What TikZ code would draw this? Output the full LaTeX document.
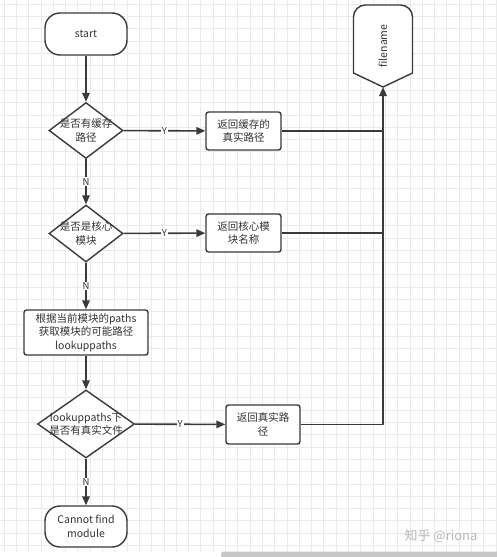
\documentclass[tikz,border=0pt]{standalone}
\usepackage{fontspec}
\setmainfont{Noto Sans CJK SC}
\usetikzlibrary{shapes.geometric,arrows.meta}
\definecolor{ln}{HTML}{3A3A3A}
\definecolor{gridc}{HTML}{EBEBEB}
\tikzset{
  gridline/.style={draw=gridc,line width=0.9pt},
  flow/.style={draw=ln,line width=1.6pt,line join=round},
  arr/.style={flow,-{Triangle[length=9pt,width=7.5pt]}},
  basebox/.style={draw=ln,line width=1.4pt,fill=white,align=center,inner sep=1pt,
    font=\fontsize{10.5}{13.5}\selectfont,text=black!80},
  procbox/.style={basebox,rectangle,rounded corners=2.5pt},
  term/.style={basebox,rectangle,rounded corners=15pt,minimum width=82pt,minimum height=42pt},
  decision/.style={draw=ln,line width=1.4pt,fill=white,diamond,inner sep=0pt},
  dtext/.style={align=center,inner sep=0pt,font=\fontsize{10.5}{13.5}\selectfont,text=black!80},
  lbl/.style={fill=white,inner sep=1pt,font=\fontsize{9.5}{10}\selectfont,text=black!80}
}
\begin{document}
\begin{tikzpicture}[x=1pt,y=-1pt]
\useasboundingbox (0,0) rectangle (497,557);
\fill[white] (0,0) rectangle (497,557);
% grid
\foreach \i in {0,...,40} \draw[gridline] ({4.1+12.3*\i},0) -- ({4.1+12.3*\i},552);
\foreach \j in {0,...,44} \draw[gridline] (0,{4.3+12.3*\j}) -- (497,{4.3+12.3*\j});
% scrollbar
\fill[black!22,rounded corners=2.5pt] (221,551.5) rectangle (500,558);

% nodes
\node[term] (start) at (86,34) {start};
\node[decision,minimum width=74pt,minimum height=56pt,
  label={[dtext]center:是否有缓存\\路径}] (d1) at (86,130.5) {};
\node[procbox,minimum width=75pt,minimum height=38pt] (b1) at (243.5,131) {返回缓存的\\真实路径};
\node[decision,minimum width=74pt,minimum height=57pt,
  label={[dtext]center:是否是核心\\模块}] (d2) at (86,233.5) {};
\node[procbox,minimum width=75pt,minimum height=38pt] (b2) at (243.5,233) {返回核心模\\块名称};
\node[procbox,minimum width=124pt,minimum height=45pt,font=\fontsize{10.5}{13.3}\selectfont] (b3) at (86,332.5) {根据当前模块的paths\\获取模块的可能路径\\lookuppaths};
\node[decision,minimum width=97pt,minimum height=68pt,
  label={[dtext]center:lookuppaths下\\是否有真实文件}] (d3) at (86,424) {};
\node[procbox,minimum width=74pt,minimum height=39pt] (b4) at (263,424.5) {返回真实路\\径};
\node[term,minimum height=41pt] (end) at (86,526.5) {Cannot find\\module};

% filename shape
\draw[draw=ln,line width=1.4pt,fill=white,line join=round]
  (353.5,73) -- (353.5,17) arc[start angle=180,end angle=90,radius=12pt]
  -- (400.5,5) arc[start angle=90,end angle=0,radius=12pt]
  -- (412.5,73) -- (383,87) -- cycle;
\node[rotate=90,font=\fontsize{10.5}{12}\selectfont,text=black!80] (fn) at (383,46) {filename};
\coordinate (fnb) at (383,87);

% connectors
\draw[arr] (start) -- (d1);
\draw[arr] (d1) -- node[lbl]{Y} (b1);
\draw[arr] (d1) -- node[lbl]{N} (d2);
\draw[arr] (d2) -- node[lbl]{Y} (b2);
\draw[arr] (d2) -- node[lbl]{N} (b3);
\draw[arr] (b3) -- (d3);
\draw[arr] (d3) -- node[lbl]{Y} (b4);
\draw[arr] (d3) -- node[lbl]{N} (end);
\draw[flow] (b1.east) -- (b1.east -| fnb);
\draw[flow] (b2.east) -- (b2.east -| fnb);
\draw[arr] (b4.east) -| (fnb);

% watermark
\node[text=black!28,font=\fontsize{13}{14}\selectfont,anchor=west] (wm) at (401,536) {知乎 @riona};
\end{tikzpicture}
\end{document}
